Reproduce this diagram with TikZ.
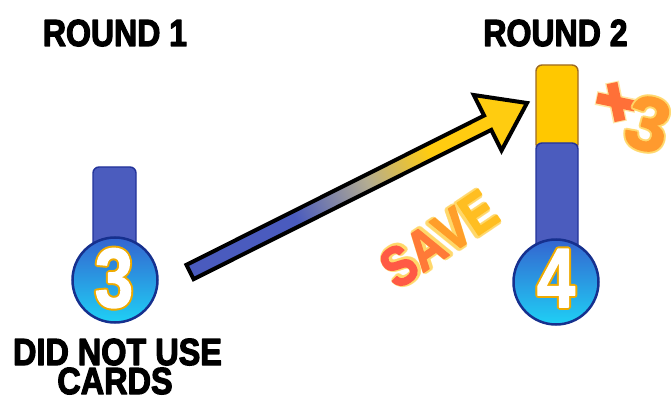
\documentclass[tikz,border=0pt]{standalone}
\usepackage{fontspec}
\setmainfont{Liberation Sans}
\usetikzlibrary{calc}
\definecolor{barblue}{HTML}{4B5CBE}
\definecolor{barline}{HTML}{23339A}
\definecolor{goldfill}{HTML}{FFC800}
\definecolor{goldline}{HTML}{9E6A22}
\definecolor{cointop}{HTML}{3465D0}
\definecolor{coinbot}{HTML}{1FD0F5}
\definecolor{coinline}{HTML}{16308E}
\definecolor{digitline}{HTML}{EEAA00}
\definecolor{arrowblue}{HTML}{4A5BBE}
\definecolor{arrowgrey}{HTML}{B3AC92}
\definecolor{arrowgold}{HTML}{FFCC10}
\definecolor{saveS}{HTML}{FF5A45}
\definecolor{saveA}{HTML}{FF7A38}
\definecolor{saveV}{HTML}{FF9E2A}
\definecolor{saveE}{HTML}{FFBE22}
\definecolor{glow}{HTML}{FFD86A}
\definecolor{timesc}{HTML}{FF7038}
\definecolor{threec}{HTML}{FF9A2E}
\pgfdeclarehorizontalshading{arrowgrad}{100bp}{color(0bp)=(arrowblue); color(38bp)=(arrowblue); color(52bp)=(arrowgrey); color(64bp)=(arrowgold); color(100bp)=(arrowgold)}
\newcommand\heavytext[2]{\special{pdf:literal direct #1 w 1 j 2 Tr}#2\special{pdf:literal direct 0 Tr}}
\begin{document}
\begin{tikzpicture}[x=1pt,y=-1pt,
  heading/.style={font=\fontsize{37.7}{40}\selectfont\bfseries, inner sep=0pt, anchor=base},
  barbox/.style={rectangle, rounded corners=6pt, line width=1.4pt, inner sep=0pt},
  coin/.style={circle, minimum size=85pt, inner sep=0pt, top color=cointop, bottom color=coinbot, draw=coinline, line width=2.5pt},
  digit/.style={font=\fontsize{84}{84}\selectfont\bfseries, inner sep=0pt, anchor=base},
  savetext/.style={font=\fontsize{56}{56}\selectfont\bfseries, inner sep=0pt, rotate=34},
  threetext/.style={font=\fontsize{76}{76}\selectfont\bfseries, inner sep=0pt, rotate=-15},
  crossbar/.style={line width=11pt, color=timesc},
]
\fill[white] (0,0) rectangle (671,398);
\useasboundingbox (0,0) rectangle (671,398);

% headings
\node[heading] (r1) at (115,46) {\scalebox{0.85}[1]{\heavytext{1.3}{ROUND 1}}};
\node[heading] (r2) at (555.5,46) {\scalebox{0.85}[1]{\heavytext{1.3}{ROUND 2}}};
\node[heading] (note1) at (117.5,365) {\scalebox{0.86}[1]{\heavytext{1.3}{DID NOT USE}}};
\node[heading] (note2) at (115,394) {\scalebox{0.86}[1]{\heavytext{1.3}{CARDS}}};

% round 1
\node[barbox, fill=barblue, draw=barline, minimum width=43pt, minimum height=95pt] (bar1) at (114.5,214.5) {};
\node[coin] (coin1) at (115,280) {};
\foreach \dx/\dy [count=\k] in {2/0,-2/0,0/2,0/-2,1.4/1.4,-1.4/1.4,1.4/-1.4,-1.4/-1.4}
  \node[digit, text=digitline] (d1o\k) at ($(114,307)+(\dx,\dy)$) {\scalebox{0.82}[1]{\heavytext{1.5}{3}}};
\node[digit, text=white] (d1) at (114,307) {\scalebox{0.82}[1]{\heavytext{1.5}{3}}};

% round 2
\node[barbox, fill=goldfill, draw=goldline, minimum width=42pt, minimum height=85pt] (bar2y) at (557,107.5) {};
\node[barbox, fill=barblue, draw=barline, minimum width=42pt, minimum height=119pt] (bar2b) at (557,202.5) {};
\node[coin] (coin2) at (556,282) {};
\foreach \dx/\dy [count=\k] in {2/0,-2/0,0/2,0/-2,1.4/1.4,-1.4/1.4,1.4/-1.4,-1.4/-1.4}
  \node[digit, text=digitline] (d2o\k) at ($(556,307)+(\dx,\dy)$) {\scalebox{0.82}[1]{\heavytext{1.5}{4}}};
\node[digit, text=white] (d2) at (556,307) {\scalebox{0.82}[1]{\heavytext{1.5}{4}}};

% arrow
\coordinate (atail) at (190,272);
\coordinate (atip) at (527,103);
\coordinate (hb) at ($(atail)!333pt!(atip)$);
\shade[shading=arrowgrad, shading angle=26.7, draw=black, line width=4pt, line join=miter]
  ($(atail)!8pt!90:(atip)$) -- ($(hb)!8pt!-90:(atail)$) -- ($(hb)!31pt!-90:(atail)$) -- (atip)
  -- ($(hb)!31pt!90:(atail)$) -- ($(hb)!8pt!90:(atail)$) -- ($(atail)!8pt!-90:(atip)$) -- cycle;

% SAVE
\foreach \dx/\dy [count=\k] in {2/0,-2/0,0/2,0/-2,1.5/1.5,-1.5/1.5,1.5/-1.5,-1.5/-1.5}
  \node[savetext, text=glow, opacity=0.7] (saveg\k) at ($(438.5,239)+(\dx,\dy)$) {\scalebox{0.83}[1]{\heavytext{1.5}{SAVE}}};
\node[savetext] (save) at (438.5,239) {\scalebox{0.83}[1]{\heavytext{1.5}{\color{saveS}S\color{saveA}A\color{saveV}V\color{saveE}E}}};

% x3
\coordinate (xc) at (616,102);
\draw[crossbar, color=glow, line width=14pt, opacity=0.6] ($(xc)+(-20,-4)$) -- ($(xc)+(20,4)$);
\draw[crossbar, color=glow, line width=14pt, opacity=0.6] ($(xc)+(-4,-20)$) -- ($(xc)+(4,20)$);
\draw[crossbar] ($(xc)+(-19,-4)$) -- ($(xc)+(19,4)$);
\draw[crossbar] ($(xc)+(-4,-19)$) -- ($(xc)+(4,19)$);
\foreach \dx/\dy [count=\k] in {2/0,-2/0,0/2,0/-2,1.5/1.5,-1.5/1.5,1.5/-1.5,-1.5/-1.5}
  \node[threetext, text=glow, opacity=0.7] (threeg\k) at ($(648,124)+(\dx,\dy)$) {\heavytext{1.5}{3}};
\node[threetext, text=threec] (three) at (648,124) {\heavytext{1.5}{3}};
\end{tikzpicture}
\end{document}
